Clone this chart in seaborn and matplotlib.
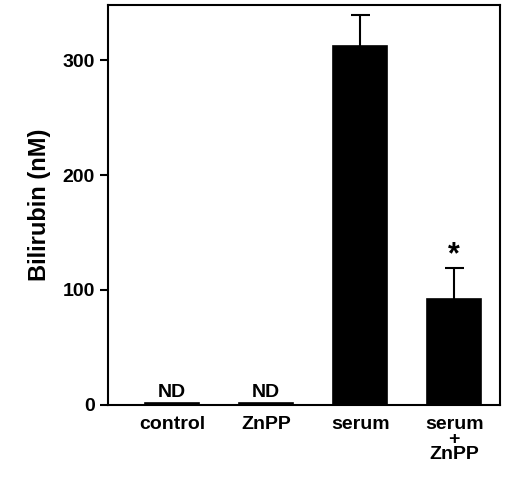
import matplotlib
matplotlib.use("Agg")
import matplotlib.pyplot as plt
import seaborn as sns
import pandas as pd

groups = ["control", "ZnPP", "serum", "serum\n+\nZnPP"]
bilirubin = [1.5, 1.5, 312, 92]
sem = [0, 0, 27, 27]
labels_above = ["ND", "ND", "", "*"]

sns.set_style("ticks")
plt.rcParams['font.family'] = ['Liberation Sans', 'DejaVu Sans']
plt.rcParams['text.color'] = 'black'
plt.rcParams['axes.labelcolor'] = 'black'
plt.rcParams['xtick.color'] = 'black'
plt.rcParams['ytick.color'] = 'black'

df = pd.DataFrame({"group": groups, "value": bilirubin})
fig, ax = plt.subplots(figsize=(5.2, 4.92), dpi=100)
sns.barplot(data=df, x="group", y="value", color="black", width=0.58,
            saturation=1, errorbar=None, edgecolor="black", linewidth=1.2, ax=ax)

for i, (v, e) in enumerate(zip(bilirubin, sem)):
    if e > 0:
        ax.vlines(i, v, v + e, color="black", linewidth=1.5)
        ax.hlines(v + e, i - 0.1, i + 0.1, color="black", linewidth=1.5)
    if labels_above[i] == "ND":
        ax.text(i, v + 2, "ND", ha="center", va="bottom", fontsize=14, fontweight="bold")
    elif labels_above[i] == "*":
        ax.text(i, v + e - 2, "*", ha="center", va="bottom", fontsize=22, fontweight="bold")

ax.set_xlim(-0.68, 3.49)
ax.set_ylim(0, 348)
ax.set_yticks([0, 100, 200, 300])
ax.set_xlabel("")
ax.set_ylabel("Bilirubin (nM)", fontsize=17, fontweight="bold", labelpad=8)
for sp in ax.spines.values():
    sp.set_visible(True)
    sp.set_linewidth(1.5)
    sp.set_color("black")
ax.tick_params(axis="x", length=0, labelsize=14, pad=8)
ax.tick_params(axis="y", labelsize=14, width=1.5, length=6)
for t in ax.get_xticklabels() + ax.get_yticklabels():
    t.set_fontweight("bold")
for t in ax.get_xticklabels():
    t.set_verticalalignment("top")
    t.set_linespacing(0.85)

fig.subplots_adjust(left=0.208, right=0.962, top=0.99, bottom=0.177)
fig.savefig("out.png", dpi=100)
